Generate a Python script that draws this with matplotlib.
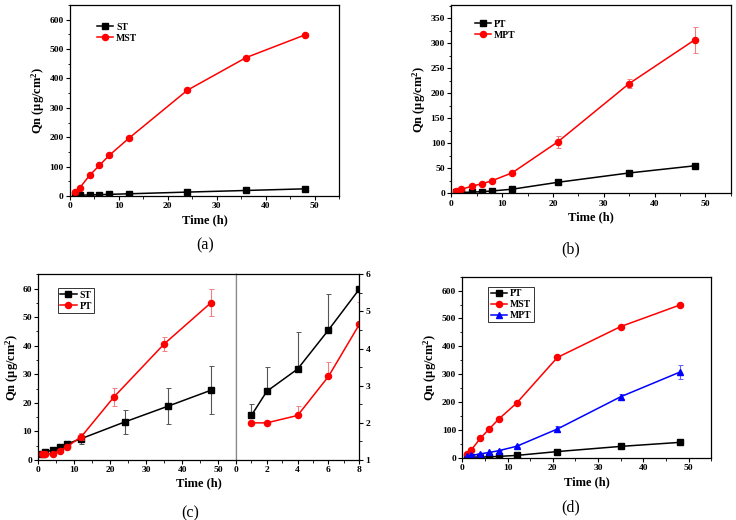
import matplotlib
matplotlib.use("Agg")
import matplotlib.pyplot as plt
from matplotlib.ticker import MultipleLocator

plt.rcParams['font.family'] = ['Liberation Serif', 'DejaVu Serif']
plt.rcParams['font.weight'] = 'bold'
plt.rcParams['mathtext.fontset'] = 'custom'
plt.rcParams['mathtext.rm'] = 'Liberation Serif:bold'
plt.rcParams['mathtext.bf'] = 'Liberation Serif:bold'
plt.rcParams['mathtext.default'] = 'bf'

# ---------------- data ----------------
t_st = [1, 2, 4, 6, 8, 12, 24, 36, 48]
t_pt = [1, 2, 4, 6, 8, 12, 21, 35, 48]

st = [2.2, 2.85, 3.45, 4.5, 5.6, 7.5, 13.3, 18.8, 24.4]
st_err = [0.3, 0.65, 1.0, 0.97, 1.2, 2.0, 4.35, 6.3, 8.4]
pt = [2.0, 2.0, 2.2, 3.25, 4.65, 8.2, 22.0, 40.6, 55.0]
pt_err = [0.05, 0.05, 0.25, 0.4, 0.6, 1.3, 3.2, 2.6, 4.7]

mst = [15, 28, 70, 104, 138, 196, 360, 471, 548]
mst_err = [2, 3, 3, 3, 3, 4, 5, 5, 8]
mpt = [5, 8, 14, 19, 25, 41, 103, 219, 307]
mpt_err = [1, 1, 2, 2, 2, 3, 12, 9, 26]

panel_labels = ['(a)', '(b)', '(c)', '(d)']

BLACK = '#000000'
RED = '#ff0000'
BLUE = '#0000ff'
TICKFS = 6.8
LABFS = 9.0

fig = plt.figure(figsize=(7.36, 5.2), dpi=100)


def style(ax, xmaj, xmin, ymaj, ymin):
    ax.xaxis.set_major_locator(MultipleLocator(xmaj))
    ax.xaxis.set_minor_locator(MultipleLocator(xmin))
    ax.yaxis.set_major_locator(MultipleLocator(ymaj))
    ax.yaxis.set_minor_locator(MultipleLocator(ymin))
    ax.tick_params(which='major', direction='out', length=3, width=0.8, labelsize=TICKFS, pad=1.5)
    ax.tick_params(which='minor', direction='out', length=1.8, width=0.6)
    for s in ax.spines.values():
        s.set_linewidth(0.9)


def series(ax, x, y, e, color, marker, label, ecolor, ms=4.4, lower=True):
    yerr = e if lower else [[0] * len(e), e]
    ax.errorbar(x, y, yerr=yerr, fmt='none', ecolor=ecolor, elinewidth=0.8,
                capsize=1.8, capthick=0.7)
    ax.plot(x, y, color=color, marker=marker, ms=ms, lw=1.1, label=label)


def qlabel(ax, pad=2):
    ax.set_ylabel('Qn (μg/cm$^{2}$)', fontsize=LABFS, fontweight='bold', labelpad=pad)


def tlabel(ax):
    ax.set_xlabel('Time (h)', fontsize=LABFS, fontweight='bold', labelpad=3)


def legend(ax, anchor, frame):
    lg = ax.legend(loc='upper left', bbox_to_anchor=anchor, frameon=frame, fontsize=7.0,
                   handlelength=1.7, handletextpad=0.3, labelspacing=0.2,
                   borderpad=0.25, borderaxespad=0, fancybox=False)
    if frame:
        lg.get_frame().set_edgecolor('black')
        lg.get_frame().set_linewidth(0.7)
    return lg


# ---------------- (a) ----------------
axa = fig.add_axes([70 / 736, 1 - 196 / 520, 269 / 736, 191 / 520])
series(axa, t_st, st, st_err, BLACK, 's', 'ST', '#555555', ms=3.8)
series(axa, t_st, mst, mst_err, RED, 'o', 'MST', '#f08080')
axa.set_xlim(0, 55)
axa.set_ylim(0, 650)
style(axa, 10, 5, 100, 50)
qlabel(axa)
tlabel(axa)
legend(axa, (0.09, 0.92), False)
fig.text(205 / 736, 1 - 245 / 520, panel_labels[0], ha='center', va='center', fontsize=11.5, fontweight='normal')

# ---------------- (b) ----------------
axb = fig.add_axes([451.3 / 736, 1 - 193.3 / 520, 279.4 / 736, 188.3 / 520])
series(axb, t_pt, pt, pt_err, BLACK, 's', 'PT', '#555555', ms=3.8)
series(axb, t_pt, mpt, mpt_err, RED, 'o', 'MPT', '#f08080')
axb.set_xlim(0, 55)
axb.set_ylim(0, 376)
style(axb, 10, 5, 50, 25)
qlabel(axb)
tlabel(axb)
legend(axb, (0.075, 0.935), False)
fig.text(571 / 736, 1 - 249 / 520, panel_labels[1], ha='center', va='center', fontsize=11.5, fontweight='normal')

# ---------------- (c) ----------------
axc = fig.add_axes([38.3 / 736, 1 - 460 / 520, 197.7 / 736, 185.7 / 520])
series(axc, t_st, st, st_err, BLACK, 's', 'ST', '#555555', ms=3.8)
series(axc, t_pt, pt, pt_err, RED, 'o', 'PT', '#f08080')
axc.set_xlim(0, 55)
axc.set_ylim(0, 65)
style(axc, 10, 5, 10, 5)
axc.spines['right'].set_color('#888888')
qlabel(axc, pad=1)
legend(axc, (0.098, 0.925), True)

axc2 = fig.add_axes([236 / 736, 1 - 460 / 520, 123.3 / 736, 185.7 / 520])
series(axc2, t_st[:5], st[:5], st_err[:5], BLACK, 's', 'ST', '#555555', ms=3.8, lower=False)
series(axc2, t_pt[:5], pt[:5], pt_err[:5], RED, 'o', 'PT', '#f08080', lower=False)
axc2.set_xlim(0, 8)
axc2.set_ylim(1, 6)
style(axc2, 2, 1, 1, 0.5)
axc2.yaxis.tick_right()
axc2.yaxis.set_label_position('right')
axc2.tick_params(axis='y', which='both', left=False, right=True)
axc2.spines['left'].set_color('#888888')
fig.text(198.7 / 736, 1 - 483 / 520, 'Time (h)', ha='center', va='center', fontsize=LABFS, fontweight='bold')
fig.text(190 / 736, 1 - 513 / 520, panel_labels[2], ha='center', va='center', fontsize=11.5, fontweight='normal')

# ---------------- (d) ----------------
axd = fig.add_axes([462.3 / 736, 1 - 457.7 / 520, 249 / 736, 181 / 520])
series(axd, t_pt, pt, pt_err, BLACK, 's', 'PT', '#555555', ms=3.8)
series(axd, t_pt, mst, mst_err, RED, 'o', 'MST', '#f08080')
series(axd, t_pt, mpt, mpt_err, BLUE, '^', 'MPT', '#6060ff')
axd.set_xlim(0, 55)
axd.set_ylim(0, 650)
style(axd, 10, 5, 100, 50)
qlabel(axd)
tlabel(axd)
legend(axd, (0.104, 0.945), True)
fig.text(571 / 736, 1 - 507 / 520, panel_labels[3], ha='center', va='center', fontsize=11.5, fontweight='normal')

fig.savefig('out.png', dpi=100)
